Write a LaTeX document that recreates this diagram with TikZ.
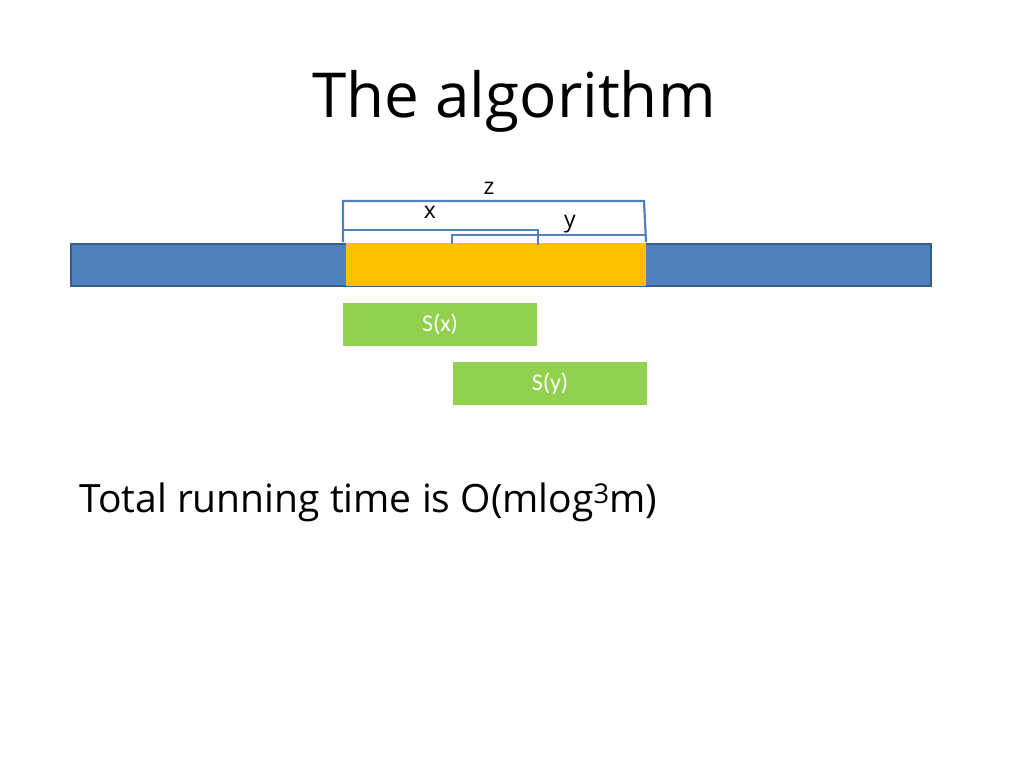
\documentclass[tikz,border=0pt]{standalone}
\usepackage{fontspec}
\setmainfont{Open Sans}
\newfontfamily\calib{Carlito}
\definecolor{barblue}{HTML}{4F81BD}
\definecolor{barblueedge}{HTML}{385D8A}
\definecolor{orangefill}{HTML}{FFC000}
\definecolor{greenfill}{HTML}{92D050}
\definecolor{brk}{HTML}{4F81BD}
\begin{document}
\begin{tikzpicture}[x=1pt,y=-1pt,
  bar/.style={fill=barblue,draw=barblueedge,line width=1.5pt},
  seg/.style={fill=orangefill,draw=none},
  sbox/.style={fill=greenfill,draw=none,text=white,font=\calib\fontsize{24}{28}\selectfont},
  bracket/.style={draw=brk,line width=2.2pt},
  lbl/.style={font=\fontsize{23}{26}\selectfont,inner sep=0pt}]
\useasboundingbox[fill=white] (0,0) rectangle (1024,768);
\node[font=\fontsize{62}{70}\selectfont,inner sep=0pt] (title) at (514,101) {The algorithm};
\draw[bar] (71,244) rectangle (931,286);
\fill[seg] (346,243) rectangle (646,286);
% brackets
\coordinate (zl) at (343,242);
\coordinate (zr) at (646,242);
\draw[bracket] (zl) -- (343,201) -- (644,201) -- (zr);
\draw[bracket] (343,242) -- (343,230) -- (538,230) -- (538,245);
\draw[bracket] (452,244) -- (452,235) -- (646,235);
\node[lbl] (zlab) at (489,188) {z};
\node[lbl] (xlab) at (430,212) {x};
\node[lbl] (ylab) at (570,224) {y};
\node[sbox,minimum width=194pt,minimum height=43pt,inner sep=0pt] (sx) at (440,324.5) {S(x)};
\node[sbox,minimum width=194pt,minimum height=43pt,inner sep=0pt] (sy) at (550,383.5) {S(y)};
\node[anchor=west,font=\fontsize{39}{44}\selectfont,inner sep=0pt] (total) at (79,502) {Total running time is O(mlog\textsuperscript{3}m)};
\end{tikzpicture}
\end{document}
